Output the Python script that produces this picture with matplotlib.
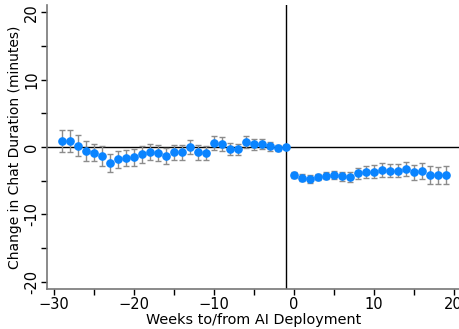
import matplotlib
matplotlib.use("Agg")
import matplotlib.pyplot as plt
import numpy as np

weeks_pre = list(range(-29, 0))
est_pre = [0.95, 0.95, 0.2, -0.65, -0.85, -1.3, -2.4, -1.85, -1.65, -1.55, -1.05, -0.8,
           -0.9, -1.3, -0.8, -0.8, 0.0, -0.8, -0.9, 0.6, 0.5, -0.3, -0.35, 0.8, 0.4, 0.4,
           0.1, -0.2, 0.0]
err_pre = [1.65, 1.65, 1.6, 1.5, 1.3, 1.45, 1.35, 1.3, 1.2, 1.3, 1.25, 1.2, 1.2, 1.15,
           1.15, 1.15, 1.1, 1.1, 1.05, 1.1, 1.05, 0.9, 0.85, 0.9, 0.85, 0.75, 0.65, 0.45, 0.0]

weeks_post = list(range(0, 20))
est_post = [-4.15, -4.55, -4.8, -4.4, -4.25, -4.15, -4.35, -4.45, -3.9, -3.7, -3.65,
            -3.4, -3.5, -3.5, -3.3, -3.75, -3.55, -4.15, -4.2, -4.15]
err_post = [0.4, 0.55, 0.6, 0.45, 0.55, 0.65, 0.65, 0.7, 0.85, 0.85, 0.95, 1.0, 1.0,
            1.0, 1.05, 1.1, 1.2, 1.3, 1.25, 1.35]

x_ticks = [-30, -20, -10, 0, 10, 20]
y_ticks = [-20, -10, 0, 10, 20]

fig = plt.figure(figsize=(4.6, 3.29), dpi=100)
ax = fig.add_axes([0.102, 0.1216, 0.898, 0.863])

weeks = weeks_pre + weeks_post
est = est_pre + est_post
err = err_pre + err_post

ax.axhline(0, color='black', lw=1.0, zorder=1)
ax.axvline(-1, color='black', lw=1.0, zorder=1)
ax.errorbar(weeks, est, yerr=err, fmt='none', ecolor='#8c8c8c', elinewidth=1.0,
            capsize=2.5, capthick=1.0, zorder=2)
ax.plot(weeks, est, 'o', color='#0a84ff', markersize=5.2, zorder=3)

ax.set_xlim(-30.9, 20.8)
ax.set_ylim(-21.1, 21.1)
ax.set_xticks(x_ticks)
ax.set_xticks([-25, -15, -5, 5, 15], minor=True)
ax.set_yticks(y_ticks)
ax.set_yticks([-15, -5, 5, 15], minor=True)
ax.set_yticklabels([str(v) for v in y_ticks], rotation=90, va='center')

for s in ['top', 'right']:
    ax.spines[s].set_visible(False)
for s in ['left', 'bottom']:
    ax.spines[s].set_color('#777777')
    ax.spines[s].set_linewidth(1.2)

ax.tick_params(axis='both', which='both', length=4, width=1, color='black',
               labelsize=10.5, pad=1.5)
ax.set_xlabel('Weeks to/from AI Deployment', fontsize=10.4, labelpad=1)
ax.set_ylabel('Change in Chat Duration (minutes)', fontsize=10, labelpad=2)

fig.savefig('out.png', dpi=100)
